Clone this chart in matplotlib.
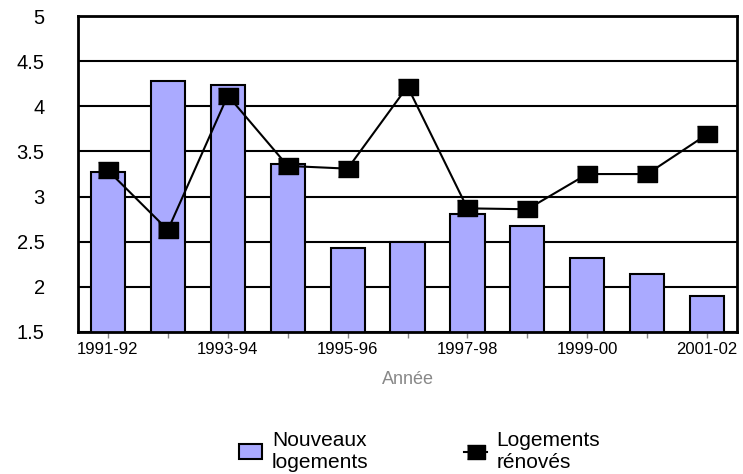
import matplotlib
matplotlib.use('Agg')
import matplotlib.pyplot as plt
from matplotlib.patches import Patch
from matplotlib.lines import Line2D

plt.rcParams['font.family'] = ['Liberation Sans', 'DejaVu Sans']

years = ['1991-92', '1992-93', '1993-94', '1994-95', '1995-96', '1996-97',
         '1997-98', '1998-99', '1999-00', '2000-01', '2001-02']
nouveaux = [3.27, 4.28, 4.24, 3.36, 2.43, 2.50, 2.81, 2.67, 2.32, 2.14, 1.90]
renoves = [3.29, 2.63, 4.12, 3.34, 3.31, 4.22, 2.87, 2.86, 3.25, 3.25, 3.69]

fig = plt.figure(figsize=(7.43, 4.74), dpi=100)
ax = fig.add_axes([0.105, 0.2996, 0.887, 0.6664])

x = list(range(len(years)))
ax.set_axisbelow(True)
ax.yaxis.grid(True, color='black', linewidth=1.5)
ax.bar(x, nouveaux, width=0.57, bottom=0, color='#aaaaff', edgecolor='black',
       linewidth=1.5, zorder=2)
rect = [(-1, -0.75), (1, -0.75), (1, 0.75), (-1, 0.75)]
ax.plot(x, renoves, color='black', linewidth=1.5, marker=rect, markersize=15,
        markerfacecolor='black', zorder=3)

ax.set_ylim(1.5, 5)
ax.set_xlim(-0.5, len(years) - 0.5)
ax.set_yticks([1.5, 2, 2.5, 3, 3.5, 4, 4.5, 5])
ax.set_yticklabels(['1.5', '2', '2.5', '3', '3.5', '4', '4.5', '5'])
ax.set_xticks(x)
ax.set_xticklabels([y if i % 2 == 0 else '' for i, y in enumerate(years)])
ax.tick_params(axis='y', length=0, labelsize=14.5, pad=24)
ax.tick_params(axis='x', length=4, width=1, color='#888888', labelsize=12, pad=3)
for s in ax.spines.values():
    s.set_linewidth(2)
ax.set_xlabel('Année', color='#888888', fontsize=13, labelpad=10)

handles = [Patch(facecolor='#aaaaff', edgecolor='black', linewidth=1.5),
           Line2D([], [], color='black', linewidth=1.5, marker=rect,
                  markersize=13, markerfacecolor='black')]
fig.legend(handles, ['Nouveaux\nlogements', 'Logements\nrénovés'],
           loc='lower center', bbox_to_anchor=(0.565, -0.035), ncol=2,
           frameon=False, fontsize=15, columnspacing=4.6, handlelength=1.1,
           handletextpad=0.45, labelspacing=0.1)

fig.savefig('out.png', dpi=100)
